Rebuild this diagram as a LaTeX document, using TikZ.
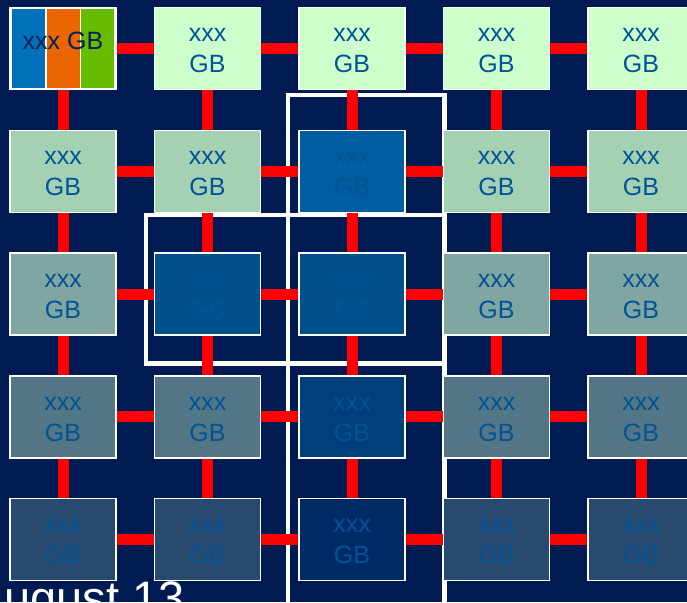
\documentclass[tikz,border=0pt]{standalone}
\usepackage{fontspec}
\setmainfont{Liberation Sans}
\usepackage{xcolor}
\usepackage{tikz}
\usetikzlibrary{backgrounds}
\definecolor{navybg}{RGB}{0, 26, 82}
\definecolor{gbtext}{RGB}{0, 84, 150}
\definecolor{gbnavy}{RGB}{0, 32, 92}
\definecolor{rowa}{RGB}{204, 255, 204}
\definecolor{rowb}{RGB}{164, 208, 180}
\definecolor{rowc}{RGB}{127, 166, 160}
\definecolor{rowd}{RGB}{82, 118, 133}
\definecolor{rowe}{RGB}{40, 74, 110}
\definecolor{hla}{RGB}{0, 94, 160}
\definecolor{hlb}{RGB}{0, 80, 140}
\definecolor{hlc}{RGB}{0, 62, 124}
\definecolor{hld}{RGB}{0, 42, 102}
\definecolor{stripblue}{RGB}{0, 112, 184}
\definecolor{striporange}{RGB}{236, 102, 0}
\definecolor{stripgreen}{RGB}{102, 186, 0}
\tikzstyle{membox} = [
    rectangle,
    minimum width=106pt,
    minimum height=82pt,
    inner sep=0pt,
    draw=white,
    line width=1.5pt,
    text=gbtext,
    align=center,
    font=\fontsize{25}{31}\selectfont
]
\tikzstyle{strip} = [
    rectangle,
    minimum width=33pt,
    minimum height=79pt,
    inner sep=0pt
]
\tikzstyle{link} = [
    line width=11pt,
    color=red
]
\tikzstyle{frame} = [
    line width=4.5pt,
    draw=white
]

\begin{document}
\begin{tikzpicture}[x=1pt, y=-1pt]
    \useasboundingbox (0, 0) rectangle (687, 602);
    \clip (0, 0) rectangle (687, 602);
    % Row 0
    \node[membox, fill=white] (m00) at (63, 48.5) {};
    \node[strip, fill=stripblue] (s0) at (28.5, 48.5) {};
    \node[strip, fill=striporange] (s1) at (63, 48.5) {};
    \node[strip, fill=stripgreen] (s2) at (97.5, 48.5) {};
    \node[text=gbnavy, inner sep=0pt, font=\fontsize{25}{31}\selectfont] (title) at (63, 41) {xxx GB};
    \node[membox, fill=rowa] (m01) at (207.5, 48.5) {\rule{0pt}{18pt}xxx\\GB};
    \node[membox, fill=rowa] (m02) at (352, 48.5) {\rule{0pt}{18pt}xxx\\GB};
    \node[membox, fill=rowa] (m03) at (496.5, 48.5) {\rule{0pt}{18pt}xxx\\GB};
    \node[membox, fill=rowa] (m04) at (641, 48.5) {\rule{0pt}{18pt}xxx\\GB};
    % Row 1
    \node[membox, fill=rowb] (m10) at (63, 171.25) {\rule{0pt}{18pt}xxx\\GB};
    \node[membox, fill=rowb] (m11) at (207.5, 171.25) {\rule{0pt}{18pt}xxx\\GB};
    \node[membox, fill=hla] (m12) at (352, 171.25) {\rule{0pt}{18pt}xxx\\GB};
    \node[membox, fill=rowb] (m13) at (496.5, 171.25) {\rule{0pt}{18pt}xxx\\GB};
    \node[membox, fill=rowb] (m14) at (641, 171.25) {\rule{0pt}{18pt}xxx\\GB};
    % Row 2
    \node[membox, fill=rowc] (m20) at (63, 294) {\rule{0pt}{18pt}xxx\\GB};
    \node[membox, fill=hlb] (m21) at (207.5, 294) {\rule{0pt}{18pt}xxx\\GB};
    \node[membox, fill=hlb] (m22) at (352, 294) {\rule{0pt}{18pt}xxx\\GB};
    \node[membox, fill=rowc] (m23) at (496.5, 294) {\rule{0pt}{18pt}xxx\\GB};
    \node[membox, fill=rowc] (m24) at (641, 294) {\rule{0pt}{18pt}xxx\\GB};
    % Row 3
    \node[membox, fill=rowd] (m30) at (63, 416.75) {\rule{0pt}{18pt}xxx\\GB};
    \node[membox, fill=rowd] (m31) at (207.5, 416.75) {\rule{0pt}{18pt}xxx\\GB};
    \node[membox, fill=hlc] (m32) at (352, 416.75) {\rule{0pt}{18pt}xxx\\GB};
    \node[membox, fill=rowd] (m33) at (496.5, 416.75) {\rule{0pt}{18pt}xxx\\GB};
    \node[membox, fill=rowd] (m34) at (641, 416.75) {\rule{0pt}{18pt}xxx\\GB};
    % Row 4
    \node[membox, fill=rowe] (m40) at (63, 539.5) {\rule{0pt}{18pt}xxx\\GB};
    \node[membox, fill=rowe] (m41) at (207.5, 539.5) {\rule{0pt}{18pt}xxx\\GB};
    \node[membox, fill=hld] (m42) at (352, 539.5) {\rule{0pt}{18pt}xxx\\GB};
    \node[membox, fill=rowe] (m43) at (496.5, 539.5) {\rule{0pt}{18pt}xxx\\GB};
    \node[membox, fill=rowe] (m44) at (641, 539.5) {\rule{0pt}{18pt}xxx\\GB};
    % Date
    \node[anchor=base west, inner sep=0pt, text=white, font=\fontsize{47}{47}\selectfont] (date) at (-27, 614) {August 13};

    \begin{scope}[on background layer]
        \fill[navybg] (0, 0) rectangle (687, 602);
        % Frames
        \draw[frame] (288, 95) rectangle (444.5, 640);
        \draw[frame] (146, 215) rectangle (444.5, 363.5);
        % Links
        \draw[link] (m00) -- (m01) (m01) -- (m02) (m02) -- (m03) (m03) -- (m04);
        \draw[link] (m10) -- (m11) (m11) -- (m12) (m12) -- (m13) (m13) -- (m14);
        \draw[link] (m20) -- (m21) (m21) -- (m22) (m22) -- (m23) (m23) -- (m24);
        \draw[link] (m30) -- (m31) (m31) -- (m32) (m32) -- (m33) (m33) -- (m34);
        \draw[link] (m40) -- (m41) (m41) -- (m42) (m42) -- (m43) (m43) -- (m44);
        \draw[link] (m00) -- (m10) (m10) -- (m20) (m20) -- (m30) (m30) -- (m40);
        \draw[link] (m01) -- (m11) (m11) -- (m21) (m21) -- (m31) (m31) -- (m41);
        \draw[link] (m02) -- (m12) (m12) -- (m22) (m22) -- (m32) (m32) -- (m42);
        \draw[link] (m03) -- (m13) (m13) -- (m23) (m23) -- (m33) (m33) -- (m43);
        \draw[link] (m04) -- (m14) (m14) -- (m24) (m24) -- (m34) (m34) -- (m44);
    \end{scope}
\end{tikzpicture}
\end{document}
